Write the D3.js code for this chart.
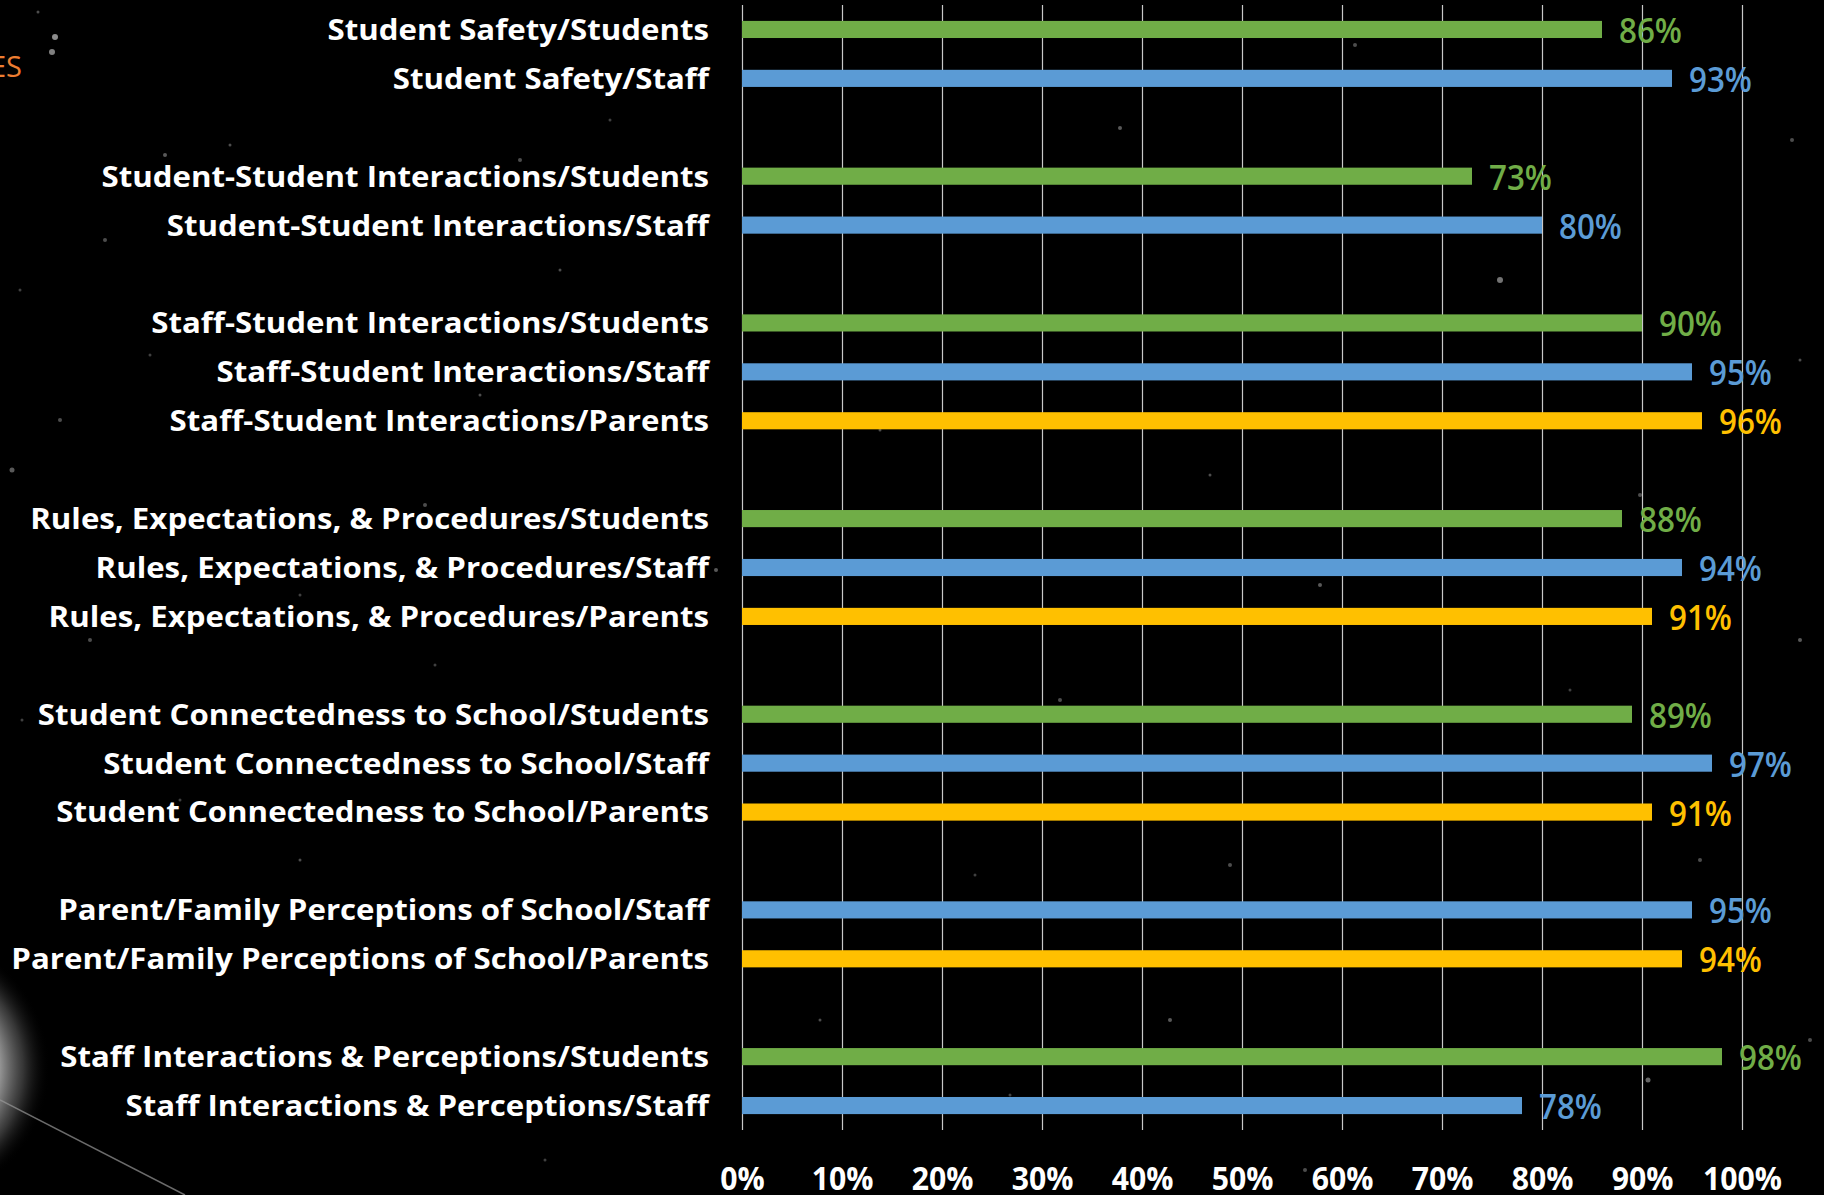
<!DOCTYPE html>
<html><head><meta charset="utf-8">
<script src="https://cdn.jsdelivr.net/npm/d3@7"></script>
<style>
html,body{margin:0;padding:0;background:#000;overflow:hidden}
svg{display:block}
</style>
</head><body>
<svg id="chart" width="1824" height="1195"></svg>
<script>
// ---- data ----
const categories = [
  "Student Safety/Students", "Student Safety/Staff",
  "Student-Student Interactions/Students", "Student-Student Interactions/Staff",
  "Staff-Student Interactions/Students", "Staff-Student Interactions/Staff", "Staff-Student Interactions/Parents",
  "Rules, Expectations, & Procedures/Students", "Rules, Expectations, & Procedures/Staff", "Rules, Expectations, & Procedures/Parents",
  "Student Connectedness to School/Students", "Student Connectedness to School/Staff", "Student Connectedness to School/Parents",
  "Parent/Family Perceptions of School/Staff", "Parent/Family Perceptions of School/Parents",
  "Staff Interactions & Perceptions/Students", "Staff Interactions & Perceptions/Staff"
];
const values = [86, 93, 73, 80, 90, 95, 96, 88, 94, 91, 89, 97, 91, 95, 94, 98, 78];
const respondents = ["Students", "Staff", "Parents"];
const respondentColors = ["#70AD47", "#5B9BD5", "#FFC000"];
const xTicks = [0, 0.1, 0.2, 0.3, 0.4, 0.5, 0.6, 0.7, 0.8, 0.9, 1.0];
const titleFragment = "ES";
// decorative background stars [x, y, r, opacity]
const stars = [
  [55,37,3,0.55],[52,52,3,0.5],[38,12,1.5,0.3],[165,155,2,0.35],[230,145,1.5,0.3],[105,240,2,0.3],
  [20,290,1.5,0.25],[60,420,2,0.3],[12,470,2.5,0.35],[150,355,1.5,0.25],[250,520,1.5,0.3],
  [90,640,2,0.3],[22,720,1.5,0.25],[300,595,1.5,0.25],[425,505,2,0.3],[520,160,2,0.3],[610,120,1.5,0.25],
  [560,270,1.5,0.3],[480,395,1.5,0.3],[690,570,2,0.35],[716,570,2,0.35],[435,665,1.5,0.25],
  [1500,280,3,0.45],[1320,585,2,0.35],[1120,128,2,0.35],[1355,45,2,0.3],[980,230,1.5,0.3],
  [880,430,1.5,0.3],[1210,475,1.5,0.3],[1640,495,2,0.3],[1792,140,2,0.3],[1800,360,1.5,0.3],
  [1570,690,1.5,0.25],[1060,700,2,0.3],[860,760,1.5,0.3],[1450,760,1.5,0.3],[1700,860,2,0.3],
  [1230,865,2,0.3],[975,875,1.5,0.25],[1800,640,2,0.35],[820,1020,1.5,0.3],[1170,1020,2,0.35],
  [1648,1080,2.5,0.4],[1360,1100,2,0.3],[1010,1095,1.5,0.25],[1810,1040,2,0.3],[545,1160,1.5,0.25],
  [300,860,1.5,0.3],[180,800,1.5,0.25],[1305,1170,2,0.3],[1760,1180,1.5,0.25]
];

// ---- layout ----
const W = 1824, H = 1195;
const plotTop = 5, plotBottom = 1130, plotLeft = 742, plotRight = 1742;
const labelRight = 709;
const FONT = "'Open Sans', 'Noto Sans', sans-serif";

const svg = d3.select("#chart");

// background
svg.append("rect").attr("width", W).attr("height", H).attr("fill", "#000");
const defs = svg.append("defs");
const glow = defs.append("radialGradient").attr("id", "planetGlow");
glow.append("stop").attr("offset", "0%").attr("stop-color", "#fff").attr("stop-opacity", 0.95);
glow.append("stop").attr("offset", "55%").attr("stop-color", "#e6e6e6").attr("stop-opacity", 0.9);
glow.append("stop").attr("offset", "80%").attr("stop-color", "#888").attr("stop-opacity", 0.4);
glow.append("stop").attr("offset", "100%").attr("stop-color", "#000").attr("stop-opacity", 0);
const fadeH = defs.append("linearGradient").attr("id", "fadeH").attr("x1", "0%").attr("x2", "100%");
fadeH.append("stop").attr("offset", "0%").attr("stop-color", "#aaa").attr("stop-opacity", 0.9);
fadeH.append("stop").attr("offset", "100%").attr("stop-color", "#666").attr("stop-opacity", 0.3);

svg.append("g").selectAll("circle").data(stars).join("circle")
  .attr("cx", d => d[0]).attr("cy", d => d[1]).attr("r", d => d[2])
  .attr("fill", "#fff").attr("opacity", d => d[3]);

svg.append("circle").attr("cx", -85).attr("cy", 1068).attr("r", 135).attr("fill", "url(#planetGlow)");
svg.append("line").attr("x1", 0).attr("y1", 1026).attr("x2", 167).attr("y2", 1026)
  .attr("stroke", "url(#fadeH)").attr("stroke-width", 1.5);
svg.append("line").attr("x1", 0).attr("y1", 1100).attr("x2", 185).attr("y2", 1195)
  .attr("stroke", "#999").attr("stroke-opacity", 0.7).attr("stroke-width", 1.5);

// title fragment (cut-off slide title)
svg.append("text").attr("x", 22).attr("y", 77).attr("text-anchor", "end")
  .attr("font-family", FONT).attr("font-size", 29).attr("fill", "#ED7D31").text(titleFragment);

// ---- scales ----
const groupOf = c => c.slice(0, c.lastIndexOf("/"));
const respOf = c => c.slice(c.lastIndexOf("/") + 1);
const slots = [];
categories.forEach((c, i) => {
  if (i > 0 && groupOf(c) !== groupOf(categories[i - 1])) slots.push("__gap" + i);
  slots.push(c);
});

const x = d3.scaleLinear().domain([0, 1]).range([plotLeft, plotRight]);
const y = d3.scaleBand().domain(slots).range([plotTop, plotBottom])
  .paddingInner(0.65).paddingOuter(0.325);
const color = d3.scaleOrdinal().domain(respondents).range(respondentColors);

// gridlines + x axis
const xAxis = d3.axisBottom(x).tickValues(xTicks).tickFormat(d3.format(".0%"))
  .tickSize(-(plotBottom - plotTop)).tickPadding(0);
const gx = svg.append("g").attr("transform", `translate(0,${plotBottom})`).call(xAxis);
gx.select(".domain").remove();
gx.selectAll(".tick line").attr("stroke", "#c8c8c8").attr("stroke-width", 1.2);
gx.selectAll(".tick text")
  .attr("font-family", FONT).attr("font-weight", "bold").attr("font-size", 32.5)
  .attr("fill", "#fff").attr("y", 60).attr("dy", 0);

// bars
const data = categories.map((c, i) => ({ c, v: values[i] / 100, r: respOf(c) }));
svg.append("g").selectAll("rect").data(data).join("rect")
  .attr("x", x(0)).attr("y", d => y(d.c))
  .attr("width", d => x(d.v) - x(0)).attr("height", y.bandwidth())
  .attr("fill", d => color(d.r));

// value labels
const vl = svg.append("g").selectAll("text").data(data).join("text")
  .attr("font-family", FONT).attr("font-weight", 600).attr("font-size", 34)
  .attr("fill", d => color(d.r))
  .text(d => Math.round(d.v * 100) + "%");

// category labels
const cl = svg.append("g").selectAll("text").data(data).join("text")
  .attr("font-family", FONT).attr("font-weight", "bold").attr("font-size", 29)
  .attr("fill", "#fff").attr("text-anchor", "end")
  .text(d => d.c);

// horizontal condensation to mimic the original narrow face
const refLabel = cl.filter(d => d.c === "Rules, Expectations, & Procedures/Students").node();
const fLabel = 679 / refLabel.getComputedTextLength();
cl.attr("transform", d => `translate(${labelRight},${y(d.c) + y.bandwidth() / 2 + 10.4}) scale(${fLabel},1)`);

const refVal = vl.filter((d, i) => i === 0).node();
const fVal = 63 / refVal.getComputedTextLength();
vl.attr("transform", d => `translate(${x(d.v) + 17},${y(d.c) + y.bandwidth() / 2 + 13.5}) scale(${fVal},1)`);

const tickTexts = gx.selectAll(".tick text");
const lastTick = tickTexts.filter(d => d === 1).node();
const fTick = 79 / lastTick.getComputedTextLength();
tickTexts.attr("transform", `scale(${fTick},1)`);
</script>
</body></html>
